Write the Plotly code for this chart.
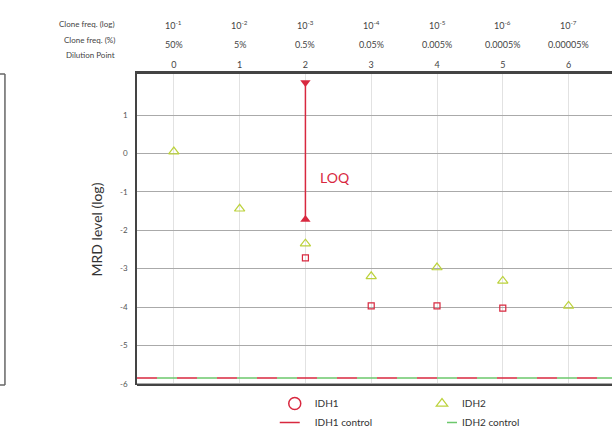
import plotly.graph_objects as go

# ---- data ----
dilution_points = [0, 1, 2, 3, 4, 5, 6]
clone_freq_log = ["10<sup>-1</sup>", "10<sup>-2</sup>", "10<sup>-3</sup>", "10<sup>-4</sup>",
                  "10<sup>-5</sup>", "10<sup>-6</sup>", "10<sup>-7</sup>"]
clone_freq_pct = ["50%", "5%", "0.5%", "0.05%", "0.005%", "0.0005%", "0.00005%"]

idh1_x = [2, 3, 4, 5]
idh1_y = [-2.72, -3.97, -3.97, -4.03]

idh2_x = [0, 1, 2, 3, 4, 5, 6]
idh2_y = [0.05, -1.44, -2.35, -3.2, -2.97, -3.32, -3.97]

idh1_control = -5.85
idh2_control = -5.85

loq_x = [2, 2]
loq_y = [1.85, -1.72]

XR = [-0.56, 6.66]
YR = [-6.03, 2.07]

RED = "#d8283f"
YG = "#bcd23c"
GREEN = "#6cc86c"
FONT = "Lato, Liberation Sans, sans-serif"

fig = go.Figure()

fig.add_trace(go.Scatter(x=XR, y=[idh1_control] * 2, mode="lines",
                         line=dict(color=RED, width=1.5, dash="20px,20px"),
                         name="IDH1 control", legend="legend"))
fig.add_trace(go.Scatter(x=XR, y=[idh2_control] * 2, mode="lines",
                         line=dict(color=GREEN, width=1.5, dash="0px,20px,20px,0px"),
                         name="IDH2 control", legend="legend2"))

fig.add_trace(go.Scatter(x=loq_x, y=loq_y, mode="lines+markers",
                         line=dict(color=RED, width=1.5),
                         marker=dict(symbol=["triangle-down", "triangle-up"], size=9, color=RED),
                         showlegend=False))

fig.add_trace(go.Scatter(x=idh1_x, y=idh1_y, mode="markers",
                         marker=dict(symbol="square-open", size=6, color=RED, line=dict(width=1.2)),
                         showlegend=False))
fig.add_trace(go.Scatter(x=idh2_x, y=idh2_y, mode="markers",
                         marker=dict(symbol="triangle-up-open", size=9, color=YG, line=dict(width=1.2)),
                         showlegend=False))

# legend-only entries with their legend symbols
fig.add_trace(go.Scatter(x=[None], y=[None], mode="markers", name="IDH1",
                         marker=dict(symbol="circle-open", size=12, color=RED, line=dict(width=1.5)),
                         legend="legend", legendrank=1))
fig.add_trace(go.Scatter(x=[None], y=[None], mode="markers", name="IDH2",
                         marker=dict(symbol="triangle-up-open", size=10, color=YG, line=dict(width=1.2)),
                         legend="legend2", legendrank=1))

annotations = []
for xv, a, b in zip(dilution_points, clone_freq_log, clone_freq_pct):
    annotations.append(dict(x=xv, y=1.158, xref="x", yref="paper", text=a, showarrow=False,
                            yanchor="middle", font=dict(size=9, color="#444")))
    annotations.append(dict(x=xv, y=1.096, xref="x", yref="paper", text=b, showarrow=False,
                            yanchor="middle", font=dict(size=9, color="#444")))
for yv, t in zip([1.161, 1.109, 1.061], ["Clone freq. (log)", "Clone freq. (%)", "Dilution Point"]):
    annotations.append(dict(x=-0.042, y=yv, xref="paper", yref="paper", text=t, showarrow=False,
                            xanchor="right", yanchor="middle", font=dict(size=8, color="#444")))
annotations.append(dict(x=2.45, y=-0.63, xref="x", yref="y", text="LOQ", showarrow=False,
                        font=dict(size=14, color=RED)))

shapes = [
    dict(type="line", xref="paper", yref="paper", x0=-0.278, x1=-0.278, y0=0, y1=1,
         line=dict(color="#666", width=1.5)),
    dict(type="line", xref="paper", yref="paper", x0=-0.29, x1=-0.278, y0=1, y1=1,
         line=dict(color="#666", width=1.5)),
    dict(type="line", xref="paper", yref="paper", x0=-0.29, x1=-0.278, y0=0, y1=0,
         line=dict(color="#666", width=1.5)),
    dict(type="line", xref="paper", yref="paper", x0=0, x1=1, y0=0, y1=0,
         line=dict(color="#444", width=2)),
]

fig.update_layout(
    width=612, height=431,
    margin=dict(l=137, r=0, t=74, b=46, autoexpand=False),
    plot_bgcolor="white", paper_bgcolor="white",
    font=dict(family=FONT, color="#444"),
    annotations=annotations, shapes=shapes,
    legend=dict(x=0.29, y=-0.013, xanchor="left", yanchor="top", orientation="v",
                font=dict(size=10, color="#333"), bgcolor="rgba(0,0,0,0)", tracegroupgap=0,
                itemwidth=30),
    legend2=dict(x=0.6, y=-0.013, xanchor="left", yanchor="top", orientation="v",
                 font=dict(size=10, color="#333"), bgcolor="rgba(0,0,0,0)", tracegroupgap=0,
                 itemwidth=30),
)
fig.update_xaxes(range=XR, side="top", tickvals=dilution_points,
                 ticktext=[str(v) for v in dilution_points], ticks="", tickfont=dict(size=9, color="#444"),
                 showgrid=True, gridcolor="#e2e2e2", gridwidth=1, zeroline=False,
                 showline=True, linecolor="#444", linewidth=2.5)
fig.update_yaxes(range=YR, tickvals=[1, 0, -1, -2, -3, -4, -5, -6],
                 ticktext=["1", "0", "-1", "-2", "-3", "-4", "-5", "-6"],
                 ticks="", tickfont=dict(size=8, color="#555"), ticklabelstandoff=6,
                 showgrid=True, gridcolor="#aaaaaa", gridwidth=1, zeroline=False,
                 showline=True, linecolor="#444", linewidth=1.5,
                 title=dict(text="MRD level (log)", font=dict(size=14, color="#333"), standoff=14))

fig.write_html("out.html")
